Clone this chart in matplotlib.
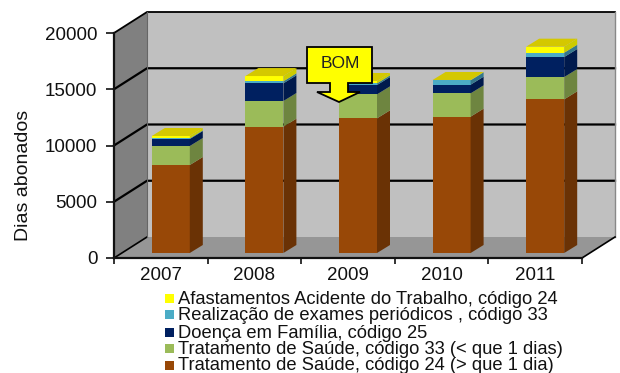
import matplotlib
matplotlib.use('Agg')
import matplotlib.pyplot as plt
import numpy as np
from matplotlib.patches import Polygon
from matplotlib.transforms import Affine2D

years = ['2007', '2008', '2009', '2010', '2011']
yticks = [0, 5000, 10000, 15000, 20000]

# stacked values, bottom to top
trat_24 = [7820, 11230, 11970, 12120, 13660]
trat_33 = [1690, 2280, 2130, 2070, 1980]
doenca = [620, 1570, 830, 770, 1780]
exames = [60, 180, 150, 390, 380]
acidente = [210, 470, 210, 30, 540]

series = [trat_24, trat_33, doenca, exames, acidente]
colors = ['#984807', '#9BBB59', '#002060', '#4BACC6', '#FFFF00']
side_colors = ['#6A3205', '#6E8540', '#001A4D', '#35788C', '#CCCC00']
top_color = '#D4C800'
labels = ['Tratamento de Saúde, código 24 (> que 1 dia)',
          'Tratamento de Saúde, código 33 (< que 1 dias)',
          'Doença em Família, código 25',
          'Realização de exames periódicos , código 33',
          'Afastamentos Acidente do Trabalho, código 24']
legend_y = [366, 349, 333, 315, 299]

W, H = 620, 373
plt.rcParams['font.family'] = ['Liberation Sans', 'DejaVu Sans']

fig = plt.figure(figsize=(W / 100, H / 100), dpi=100)
# axes sit on the front plane of the 3D box
ax = fig.add_axes([114 / W, 1 - 258 / H, 468 / W, 225 / H])
ax.set_xlim(-0.5, 4.5)
ax.set_ylim(0, 20000)
ax.patch.set_visible(False)
for s in ['top', 'right']:
    ax.spines[s].set_visible(False)
for s in ['left', 'bottom']:
    ax.spines[s].set_linewidth(1.6)
    ax.spines[s].set_color('#111111')

back_x = 33 * 5 / 468
back_y = 21 * 20000 / 225


def wall(xs, ys, color, z):
    ax.add_patch(Polygon(list(zip(xs, ys)), closed=True, fc=color, ec='none', zorder=z, clip_on=False))


x0, x1 = -0.5, 4.5
wall([x0 + back_x, x1 + back_x, x1 + back_x, x0 + back_x],
     [back_y, back_y, 20000 + back_y, 20000 + back_y], '#C0C0C0', 1)
wall([x0, x0 + back_x, x0 + back_x, x0], [0, back_y, 20000 + back_y, 20000], '#808080', 1)
wall([x0, x0 + back_x, x1 + back_x, x1], [0, back_y, back_y, 0], '#969696', 1)

for t in yticks[1:]:
    ax.plot([x0, x0 + back_x, x1 + back_x], [t, t + back_y, t + back_y], color='black',
            lw=1.6 if t < 20000 else 1.3, zorder=2, clip_on=False)
ax.plot([x0, x0 + back_x], [0, back_y], color='black', lw=1.2, zorder=2, clip_on=False)
ax.plot([x0 + back_x, x0 + back_x], [back_y, 20000 + back_y], color='#666666', lw=0.8, zorder=2, clip_on=False)
ax.plot([x1 + back_x, x1 + back_x], [back_y, 20000 + back_y], color='#888888', lw=1, zorder=2, clip_on=False)
ax.plot([x1, x1 + back_x], [0, back_y], color='black', lw=1.2, zorder=2, clip_on=False)

# bars stand a little in from the front plane
bar_tr = ax.transData + Affine2D().translate(10, 5)
x = np.arange(len(years))
width = 38 * 5 / 468
depth_x = 13 * 5 / 468
depth_y = 8 * 20000 / 225

bottom = np.zeros(len(years))
for vals, c, sc in zip(series, colors, side_colors):
    vals = np.array(vals, dtype=float)
    ax.bar(x, vals, width, bottom=bottom, color=c, zorder=3, transform=bar_tr)
    for xi, b, v in zip(x, bottom, vals):
        r = xi + width / 2
        pts = [(r, b), (r + depth_x, b + depth_y), (r + depth_x, b + v + depth_y), (r, b + v)]
        ax.add_patch(Polygon(pts, closed=True, fc=sc, ec='none', zorder=3, transform=bar_tr))
    bottom = bottom + vals

for xi, top in zip(x, bottom):
    l, r = xi - width / 2, xi + width / 2
    pts = [(l, top), (r, top), (r + depth_x, top + depth_y), (l + depth_x, top + depth_y)]
    ax.add_patch(Polygon(pts, closed=True, fc=top_color, ec='none', zorder=3, transform=bar_tr))

ax.set_xticks(np.arange(0, 6) - 0.5, minor=False)
ax.set_xticklabels([])
ax.tick_params(axis='x', length=4, width=1.2, color='#111111')
ax.set_yticks(yticks)
ax.set_yticklabels([str(t) for t in yticks], fontsize=13.5, color='#111111')
ax.tick_params(axis='y', length=6, width=1.2, color='#111111', pad=6)
for xi, y in zip(x, years):
    ax.text(xi, -0.08, y, transform=ax.get_xaxis_transform(), ha='center', va='center',
            fontsize=13.5, color='#111111')

fig.text(24 / W, 1 - 175 / H, 'Dias abonados', rotation=90, ha='center', va='center',
         fontsize=14, color='#111111')

# legend, hand placed like the original
for lab, c, ly in zip(labels, colors, legend_y):
    fig.patches.append(plt.Rectangle((165 / W, 1 - (ly + 4) / H), 9 / W, 9 / H, fc=c, ec='none',
                                     transform=fig.transFigure, figure=fig))
    fig.text(178 / W, 1 - ly / H, lab, ha='left', va='center', fontsize=13.2, color='#111111')

# BOM callout
px = [307, 372, 372, 348, 348, 360, 339, 317, 330, 330, 307]
py = [47, 47, 83, 83, 92, 92, 102, 92, 92, 83, 83]
fig.patches.append(Polygon([(a / W, 1 - b / H) for a, b in zip(px, py)], closed=True, fc='#FFFF00',
                           ec='black', lw=1.3, transform=fig.transFigure, figure=fig, zorder=6))
fig.text(340 / W, 1 - 63 / H, 'BOM', ha='center', va='center', fontsize=12.5, color='#222222', zorder=7)

fig.savefig('out.png', dpi=100)
